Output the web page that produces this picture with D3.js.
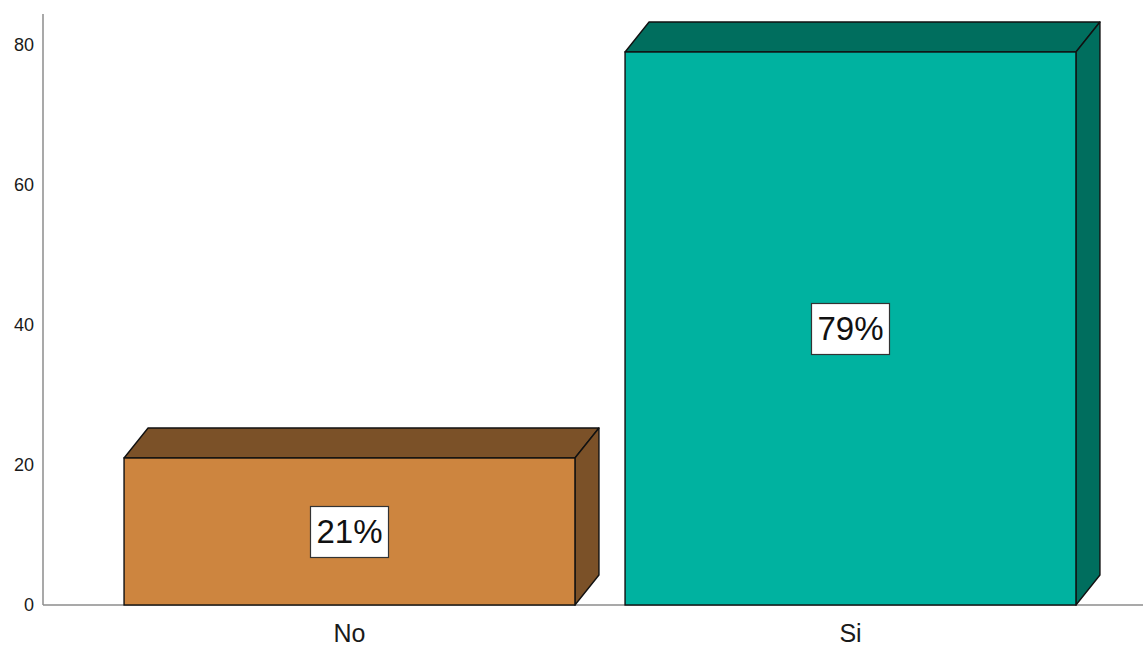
<!DOCTYPE html>
<html>
<head>
<meta charset="utf-8">
<script src="https://cdn.jsdelivr.net/npm/d3@7"></script>
<style>
  html, body { margin: 0; padding: 0; background: #ffffff; }
  svg { display: block; }
  text { font-family: "Liberation Sans", Arial, sans-serif; }
</style>
</head>
<body>
<svg id="chart" width="1143" height="648"></svg>
<script>
// Answers and their share of respondents (%)
const categories = ["No", "Si"];
const percents = [21, 79];
const yTicks = [0, 20, 40, 60, 80];
const frontColors = ["#CD853F", "#00B2A0"];
const shadeColors = ["#7B5128", "#006E5E"];

const svg = d3.select("#chart");
const W = 1143, H = 648;

const y = d3.scaleLinear().domain([0, 80]).range([605, 45]);
const x = d3.scaleBand().domain(categories).range([99, 1101])
  .paddingInner(0.1).paddingOuter(0.05);

// extrusion offsets for the 3D look
const dx = 24, dy = -30;
const axisX = 43, axisTop = 14;

// axes
svg.append("line")
  .attr("x1", axisX).attr("x2", axisX)
  .attr("y1", axisTop).attr("y2", y(0))
  .attr("stroke", "#8c8c8c").attr("stroke-width", 1.5);
svg.append("line")
  .attr("x1", axisX).attr("x2", W)
  .attr("y1", y(0)).attr("y2", y(0))
  .attr("stroke", "#8c8c8c").attr("stroke-width", 1.5);

const yAxis = d3.axisLeft(y).tickValues(yTicks).tickSize(0).tickPadding(9);
const gy = svg.append("g").attr("transform", `translate(${axisX},0)`).call(yAxis);
gy.select(".domain").remove();
gy.selectAll("text")
  .attr("font-family", "Liberation Sans, Arial, sans-serif")
  .attr("font-size", 18).attr("fill", "#1a1a1a");

const data = categories.map((c, i) => ({ cat: c, v: percents[i], i }));

const bars = svg.append("g").selectAll("g").data(data).join("g");

// top face
bars.append("path")
  .attr("d", d => {
    const x0 = x(d.cat), x1 = x0 + x.bandwidth(), yt = y(d.v);
    return `M${x0},${yt}L${x0 + dx},${yt + dy}L${x1 + dx},${yt + dy}L${x1},${yt}Z`;
  })
  .attr("fill", d => shadeColors[d.i])
  .attr("stroke", "#111").attr("stroke-width", 1.4).attr("stroke-linejoin", "round");

// side face
bars.append("path")
  .attr("d", d => {
    const x1 = x(d.cat) + x.bandwidth(), yt = y(d.v), yb = y(0);
    return `M${x1},${yt}L${x1 + dx},${yt + dy}L${x1 + dx},${yb + dy}L${x1},${yb}Z`;
  })
  .attr("fill", d => shadeColors[d.i])
  .attr("stroke", "#111").attr("stroke-width", 1.4).attr("stroke-linejoin", "round");

// front face
bars.append("rect")
  .attr("x", d => x(d.cat))
  .attr("y", d => y(d.v))
  .attr("width", x.bandwidth())
  .attr("height", d => y(0) - y(d.v))
  .attr("fill", d => frontColors[d.i])
  .attr("stroke", "#111").attr("stroke-width", 1.4);

// value labels in boxes
const labels = bars.append("g")
  .attr("transform", d => `translate(${x(d.cat) + x.bandwidth() / 2},${y(d.v / 2)})`);
labels.append("rect")
  .attr("x", -39).attr("y", -25).attr("width", 78).attr("height", 51)
  .attr("fill", "#ffffff").attr("stroke", "#333").attr("stroke-width", 1.2);
labels.append("text")
  .attr("text-anchor", "middle").attr("dy", "0.36em")
  .attr("font-size", 33).attr("fill", "#111")
  .text(d => d.v + "%");

// category labels
svg.append("g").selectAll("text").data(categories).join("text")
  .attr("x", d => x(d) + x.bandwidth() / 2)
  .attr("y", 642)
  .attr("text-anchor", "middle")
  .attr("font-size", 25).attr("fill", "#1a1a1a")
  .text(d => d);
</script>
</body>
</html>
